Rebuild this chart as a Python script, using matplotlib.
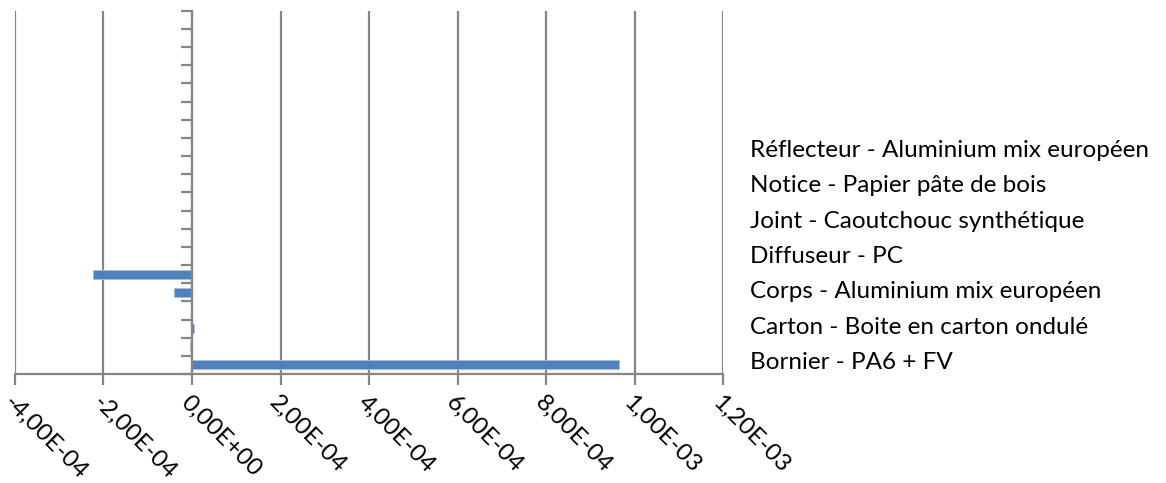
import matplotlib.pyplot as plt
from matplotlib.lines import Line2D
from matplotlib.ticker import FuncFormatter, MultipleLocator

# one value per category slot, bottom slot first (20 slots on the axis)
values = [9.65e-4, -4e-6, 4e-6, 0.0, -4.1e-5, -2.24e-4,
          0.0, 0.0, 0.0, 0.0, 0.0, 0.0, 0.0, 0.0, 0.0, 0.0, 0.0, 0.0, 0.0, 0.0]
legend_labels = ["Réflecteur - Aluminium mix européen",
                 "Notice - Papier pâte de bois",
                 "Joint - Caoutchouc synthétique",
                 "Diffuseur - PC",
                 "Corps - Aluminium mix européen",
                 "Carton - Boite en carton ondulé",
                 "Bornier - PA6 + FV"]
x_min, x_max, x_step = -4e-4, 1.2e-3, 2e-4

plt.rcParams['font.family'] = ['Lato', 'DejaVu Sans']
grey = '#868686'

fig = plt.figure(figsize=(11.66, 4.83), dpi=100)
ax = fig.add_axes([15 / 1166, 1 - 374 / 483, (723 - 15) / 1166, (374 - 10.7) / 483])

pos = list(range(len(values)))
ax.barh(pos, values, height=0.5, color='#4F81BD', edgecolor='#a9c0e0', linewidth=0.6, zorder=3)

ax.set_xlim(x_min, x_max)
ax.set_ylim(-0.5, len(values) - 0.5)
ax.xaxis.set_major_locator(MultipleLocator(x_step))
ax.xaxis.set_major_formatter(FuncFormatter(lambda v, p: ('%.2E' % (0 if abs(v) < 1e-12 else v)).replace('.', ',')))
ax.grid(axis='x', color=grey, linewidth=1.6, zorder=0)

# category axis drawn at x = 0
ax.set_yticks([i - 0.5 for i in range(len(values) + 1)])
ax.set_yticklabels([])
ax.spines['left'].set_position(('data', 0))
for s in ['top', 'right']:
    ax.spines[s].set_visible(False)
for s in ['left', 'bottom']:
    ax.spines[s].set_color(grey)
    ax.spines[s].set_linewidth(1.6)
    ax.spines[s].set_zorder(4)
ax.tick_params(axis='y', length=8, width=1.6, color=grey, direction='out')
ax.tick_params(axis='x', length=8, width=1.6, color=grey, direction='out', labelsize=17.5, pad=5)
for lbl in ax.get_xticklabels():
    lbl.set_rotation(-45)
    lbl.set_ha('left')
    lbl.set_va('top')
    lbl.set_rotation_mode('anchor')

handles = [Line2D([], [], linestyle='none') for _ in legend_labels]
fig.legend(handles, legend_labels, loc='center left', bbox_to_anchor=(728 / 1166, 1 - 256.5 / 483),
           frameon=False, handlelength=0, handletextpad=0, fontsize=17.5, labelspacing=0.59)

fig.savefig('out.png', dpi=100)
